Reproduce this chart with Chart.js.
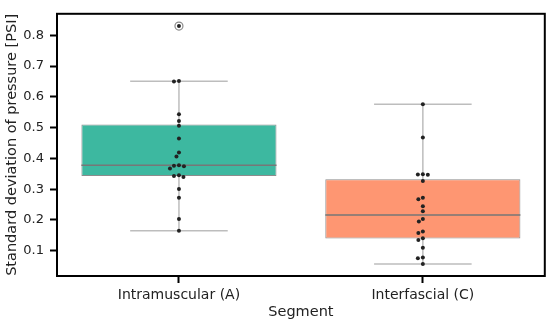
<!DOCTYPE html>
<html>
<head>
<meta charset="utf-8">
<script src="https://cdn.jsdelivr.net/npm/chart.js@4.4.0/dist/chart.umd.min.js"></script>
<style>
  html, body { margin: 0; padding: 0; background: #fff; }
  #wrap { width: 550px; height: 324px; }
</style>
</head>
<body>
<div id="wrap"><canvas id="chart"></canvas></div>
<script>
// Nhóm trên trục x
const segments = ['Intramuscular (A)', 'Interfascial (C)'];

// Thống kê hộp
const q1 = [0.343, 0.140];
const medians = [0.378, 0.216];
const q3 = [0.510, 0.332];
const whiskerLow = [0.165, 0.057];
const whiskerHigh = [0.651, 0.576];

// Các điểm đo từng nhóm
const pointsA = [0.830, 0.652, 0.650, 0.544, 0.522, 0.506, 0.465, 0.419, 0.406, 0.378, 0.376, 0.375, 0.367, 0.345, 0.343, 0.340, 0.301, 0.272, 0.203, 0.165];
const pointsC = [0.576, 0.468, 0.349, 0.348, 0.347, 0.327, 0.272, 0.267, 0.245, 0.228, 0.203, 0.195, 0.163, 0.158, 0.141, 0.135, 0.110, 0.078, 0.076, 0.057];

// Giá trị ngoại lai
const outliersA = [0.830];
const outliersC = [];

// Nhãn trục y
const yTicks = [0.1, 0.2, 0.3, 0.4, 0.5, 0.6, 0.7, 0.8];

const boxColors = ['#3db8a0', '#fe9672'];
const FONT = 'DejaVu Sans';

// Xếp điểm kiểu swarm để không chồng lên nhau
function swarm(values, center) {
    const pxX = 244.5, pxY = 316, minDist = 4.6;
    const placed = [];
    const order = values.map((v, i) => ({ v, i })).sort((a, b) => b.v - a.v);
    const out = new Array(values.length);
    order.forEach(p => {
        const y = p.v * pxY;
        let off = 0;
        for (let k = 0; k < 80; k++) {
            const cand = (k % 2 === 0 ? 1 : -1) * Math.ceil(k / 2) * 0.5;
            const ok = placed.every(q => Math.hypot(q.x - cand, q.y - y) >= minDist);
            if (ok) { off = cand; break; }
        }
        placed.push({ x: off, y: y });
        out[p.i] = { x: center + off / pxX, y: p.v };
    });
    return out;
}

// Râu, nắp râu và trung vị
const whiskerData = [], capData = [], medianData = [];
segments.forEach((s, i) => {
    whiskerData.push({ x: i, y: whiskerLow[i] }, { x: i, y: whiskerHigh[i] }, { x: null, y: null });
    capData.push({ x: i - 0.2, y: whiskerLow[i] }, { x: i + 0.2, y: whiskerLow[i] }, { x: null, y: null });
    capData.push({ x: i - 0.2, y: whiskerHigh[i] }, { x: i + 0.2, y: whiskerHigh[i] }, { x: null, y: null });
    medianData.push({ x: i - 0.4, y: medians[i] }, { x: i + 0.4, y: medians[i] }, { x: null, y: null });
});

const outlierData = [
    ...outliersA.map(v => ({ x: 0, y: v })),
    ...outliersC.map(v => ({ x: 1, y: v }))
];
const stripData = [...swarm(pointsA, 0), ...swarm(pointsC, 1)];

const framePlugin = {
    id: 'frame',
    afterDatasetsDraw(chart) {
        const { ctx, chartArea: a } = chart;
        ctx.save();
        ctx.strokeStyle = '#000';
        ctx.lineWidth = 2;
        ctx.strokeRect(a.left, a.top, a.right - a.left, a.bottom - a.top);
        ctx.restore();
    }
};

const lineDs = (data, color, width, order) => ({
    type: 'scatter', data, xAxisID: 'xs', showLine: true, spanGaps: false,
    borderColor: color, borderWidth: width, pointRadius: 0, order
});

new Chart(document.getElementById('chart'), {
    type: 'bar',
    data: {
        labels: segments,
        datasets: [
            {
                data: segments.map((s, i) => [q1[i], q3[i]]),
                backgroundColor: boxColors,
                borderColor: '#8c8c8c',
                borderWidth: 1,
                borderSkipped: false,
                grouped: false,
                barPercentage: 0.8,
                categoryPercentage: 1,
                order: 4
            },
            lineDs(whiskerData, '#bdbdbd', 1.5, 5),
            lineDs(capData, '#bdbdbd', 1.5, 3),
            lineDs(medianData, '#777777', 1.5, 2),
            {
                type: 'scatter', data: outlierData, xAxisID: 'xs',
                pointRadius: 4, pointBackgroundColor: '#ffffff',
                pointBorderColor: '#8a8a8a', pointBorderWidth: 1.2, order: 1
            },
            {
                type: 'scatter', data: stripData, xAxisID: 'xs',
                pointRadius: 2, pointBackgroundColor: '#222222',
                pointBorderWidth: 0, order: 0
            }
        ]
    },
    options: {
        responsive: true,
        maintainAspectRatio: false,
        animation: false,
        layout: { padding: { left: 0, top: 7, right: 4, bottom: 0 } },
        plugins: { legend: { display: false }, tooltip: { enabled: false } },
        scales: {
            x: {
                type: 'category',
                offset: true,
                border: { display: false },
                grid: { offset: false, drawOnChartArea: false, drawTicks: true, tickLength: 7, tickWidth: 2, tickColor: '#000' },
                ticks: { color: '#222', padding: 4, font: { family: FONT, size: 14 } },
                title: { display: true, text: 'Segment', color: '#222', padding: { top: 0, bottom: 3 }, font: { family: FONT, size: 14.5 } },
                afterFit(scale) { scale.height = 48; }
            },
            xs: { type: 'linear', display: false, offset: false, min: -0.5, max: 1.5, grid: { offset: false } },
            y: {
                min: 0.018,
                max: 0.87,
                border: { display: false },
                grid: { drawOnChartArea: false, drawTicks: true, tickLength: 7, tickWidth: 2, tickColor: '#000' },
                ticks: { color: '#222', padding: 6, font: { family: FONT, size: 13 }, callback: v => v.toFixed(1) },
                afterBuildTicks(scale) { scale.ticks = yTicks.map(v => ({ value: v })); },
                title: { display: true, text: 'Standard deviation of pressure [PSI]', color: '#222', padding: { top: 4, bottom: 0 }, font: { family: FONT, size: 14.5 } },
                afterFit(scale) { scale.width = 57; }
            }
        }
    },
    plugins: [framePlugin]
});
</script>
</body>
</html>
